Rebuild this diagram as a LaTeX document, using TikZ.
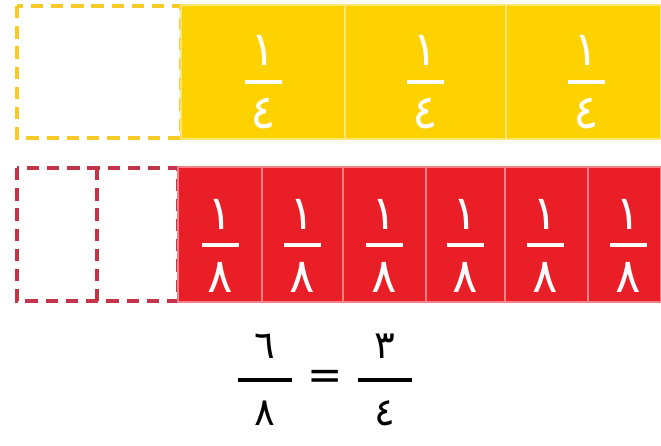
\documentclass[tikz,border=0pt]{standalone}
\usepackage{fontspec}
\newfontfamily\arabicfont[Script=Arabic]{DejaVu Sans}
\TeXXeTstate=1

\definecolor{quartyellow}{RGB}{254,209,0}
\definecolor{eighthred}{RGB}{233,30,38}
\definecolor{dashyellow}{RGB}{247,202,40}
\definecolor{dashred}{RGB}{196,52,72}

\tikzset{
  quarter/.style={draw=quartyellow!55!white, line width=0.7pt, fill=quartyellow},
  eighth/.style={draw=eighthred!55!white, line width=0.7pt, fill=eighthred},
  ghostq/.style={draw=dashyellow, line width=2pt, dash pattern=on 7pt off 4.5pt},
  ghoste/.style={draw=dashred, line width=2pt, dash pattern=on 7pt off 4.5pt},
  digit/.style={text=white, inner sep=0pt, font=\arabicfont\fontsize{27}{27}\selectfont},
  eqdigit/.style={text=black, inner sep=0pt, font=\arabicfont\fontsize{22}{22}\selectfont},
  wbar/.style={draw=white, line width=2.2pt},
  kbar/.style={draw=black, line width=1.8pt},
}

\begin{document}
\begin{tikzpicture}
        \useasboundingbox (0,0) rectangle (13.22,-8.92);

        % quarters row
	\draw[ghostq] (0.34,-0.12) rectangle (3.62,-2.76);

	\draw[quarter] (3.62,-0.10) rectangle (6.90,-2.78);
	\draw[quarter] (6.90,-0.10) rectangle (10.12,-2.78);
	\draw[quarter] (10.12,-0.10) rectangle (13.22,-2.78);

	\node[digit] (qnumA) at (5.26,-1.00) {\beginR ١\endR};
	\draw[wbar] (4.89,-1.64) -- (5.63,-1.64);
	\node[digit] (qdenA) at (5.26,-2.28) {\beginR ٤\endR};

	\node[digit] (qnumB) at (8.51,-1.00) {\beginR ١\endR};
	\draw[wbar] (8.14,-1.64) -- (8.88,-1.64);
	\node[digit] (qdenB) at (8.51,-2.28) {\beginR ٤\endR};

	\node[digit] (qnumC) at (11.72,-1.00) {\beginR ١\endR};
	\draw[wbar] (11.35,-1.64) -- (12.09,-1.64);
	\node[digit] (qdenC) at (11.72,-2.28) {\beginR ٤\endR};

        % eighths row
	\draw[ghoste] (0.34,-3.36) rectangle (3.56,-6.02);
	\draw[ghoste] (1.94,-3.36) -- (1.94,-6.02);

	\draw[eighth] (3.56,-3.34) rectangle (5.24,-6.04);
	\draw[eighth] (5.24,-3.34) rectangle (6.86,-6.04);
	\draw[eighth] (6.86,-3.34) rectangle (8.52,-6.04);
	\draw[eighth] (8.52,-3.34) rectangle (10.10,-6.04);
	\draw[eighth] (10.10,-3.34) rectangle (11.76,-6.04);
	\draw[eighth] (11.76,-3.34) rectangle (13.22,-6.04);

	\node[digit] (enumA) at (4.40,-4.28) {\beginR ١\endR};
	\draw[wbar] (4.03,-4.90) -- (4.77,-4.90);
	\node[digit] (edenA) at (4.40,-5.54) {\beginR ٨\endR};

	\node[digit] (enumB) at (6.05,-4.28) {\beginR ١\endR};
	\draw[wbar] (5.68,-4.90) -- (6.42,-4.90);
	\node[digit] (edenB) at (6.05,-5.54) {\beginR ٨\endR};

	\node[digit] (enumC) at (7.69,-4.28) {\beginR ١\endR};
	\draw[wbar] (7.32,-4.90) -- (8.06,-4.90);
	\node[digit] (edenC) at (7.69,-5.54) {\beginR ٨\endR};

	\node[digit] (enumD) at (9.30,-4.28) {\beginR ١\endR};
	\draw[wbar] (8.93,-4.90) -- (9.67,-4.90);
	\node[digit] (edenD) at (9.30,-5.54) {\beginR ٨\endR};

	\node[digit] (enumE) at (10.91,-4.28) {\beginR ١\endR};
	\draw[wbar] (10.54,-4.90) -- (11.28,-4.90);
	\node[digit] (edenE) at (10.91,-5.54) {\beginR ٨\endR};

	\node[digit] (enumF) at (12.56,-4.28) {\beginR ١\endR};
	\draw[wbar] (12.19,-4.90) -- (12.93,-4.90);
	\node[digit] (edenF) at (12.56,-5.54) {\beginR ٨\endR};

        % equation
	\node[eqdigit] (lnum) at (5.30,-6.92) {\beginR ٦\endR};
	\draw[kbar] (4.76,-7.60) -- (5.84,-7.60);
	\node[eqdigit] (lden) at (5.30,-8.26) {\beginR ٨\endR};

	\node[eqdigit, font=\arabicfont\fontsize{24}{24}\selectfont] (eqsign) at (6.50,-7.60) {=};

	\node[eqdigit] (rnum) at (7.70,-6.92) {\beginR ٣\endR};
	\draw[kbar] (7.16,-7.60) -- (8.24,-7.60);
	\node[eqdigit] (rden) at (7.70,-8.26) {\beginR ٤\endR};

\end{tikzpicture}
\end{document}
